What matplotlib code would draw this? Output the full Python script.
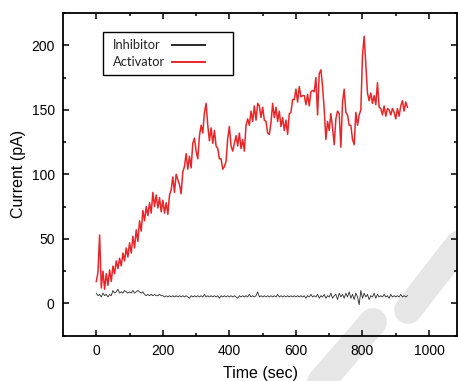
import matplotlib.pyplot as plt
import numpy as np
from matplotlib.lines import Line2D
from matplotlib.patches import Rectangle

# current traces (pA), one sample every 5 s
t_step = 5
activator = [
    17, 24, 53, 12, 25, 11, 23, 14, 26, 17,
    29, 23, 33, 27, 35, 29, 39, 33, 43, 36,
    47, 39, 52, 43, 57, 48, 64, 56, 72, 64,
    75, 68, 78, 70, 86, 75, 84, 74, 82, 71,
    80, 70, 78, 69, 84, 88, 98, 86, 100, 96,
    92, 85, 102, 106, 116, 104, 114, 105, 124, 128,
    118, 112, 130, 138, 132, 148, 155, 138, 126, 136,
    124, 134, 122, 120, 112, 112, 104, 106, 110, 128,
    137, 122, 118, 124, 130, 122, 132, 120, 127, 118,
    138, 143, 138, 149, 141, 153, 142, 155, 153, 144,
    152, 142, 141, 132, 131, 140, 155, 144, 152, 141,
    149, 137, 144, 134, 142, 131, 147, 148, 158, 158,
    166, 156, 168, 160, 161, 161, 154, 162, 153, 164,
    165, 164, 175, 146, 178, 181, 168, 150, 127, 141,
    134, 147, 136, 123, 143, 149, 147, 121, 156, 166,
    148, 146, 138, 138, 127, 123, 148, 138, 146, 150,
    192, 207, 185, 163, 157, 163, 155, 161, 154, 171,
    152, 151, 146, 153, 145, 151, 150, 146, 151, 148,
    143, 151, 145, 153, 157, 149, 156, 152,
]
inhibitor = [
    8, 6, 7, 5, 8, 6, 7, 5, 7, 6,
    10, 8, 9, 11, 8, 9, 8, 10, 9, 8, 9, 8, 10, 8, 9, 10, 9, 8, 9,
    7, 6, 7, 6, 7, 6, 7, 6, 6, 7, 6, 6, 5, 6, 5, 6, 5, 6, 5, 6, 5, 6,
    5, 6, 5, 6, 5, 4, 6, 5, 6, 5,
    6, 5, 6, 5, 7, 5, 6, 5, 6, 5,
    6, 5, 6, 4, 6, 5, 6, 5, 6, 5,
    6, 5, 6, 5, 4, 6, 5, 6, 5, 6,
    5, 7, 5, 6, 5, 6, 9, 5, 6, 5,
    6, 5, 6, 5, 6, 5, 6, 5, 7, 5,
    6, 5, 6, 5, 6, 5, 6, 5, 6, 5,
    6, 5, 6, 5, 6, 4, 6, 5, 7, 5,
    6, 5, 7, 4, 6, 5, 7, 4, 6, 5,
    8, 4, 6, 7, 3, 8, 5, 7, 4, 8,
    5, 9, 4, 7, 3, 8, 5, -1, 10, 4,
    8, 5, 7, 3, 6, 5, 8, 4, 7, 5,
    6, 5, 7, 5, 6, 4, 7, 5, 6, 5,
    6, 5, 7, 5, 6, 5, 6,
]
labels = ["Inhibitor", "Activator"]
colors = ["#2a2a2a", "#e8262a"]

t_act = np.arange(len(activator)) * t_step
t_inh = np.arange(len(inhibitor)) * t_step

plt.rcParams["font.family"] = ["Liberation Sans", "DejaVu Sans"]

fig = plt.figure(figsize=(4.58, 3.81), dpi=100)
ax = fig.add_axes([0.1376, 0.1189, 0.8602, 0.847])
ax.set_facecolor("none")

# publisher watermark behind the axes
for (x0, y0), (x1, y1) in [((300, 406), (373, 322)), ((408, 310), (500, 192))]:
    fig.add_artist(Line2D([x0 / 458, x1 / 458], [1 - y0 / 381, 1 - y1 / 381],
                          color="#e6e6e6", lw=20, solid_capstyle="round",
                          zorder=0))

ax.plot(t_inh, inhibitor, color=colors[0], lw=0.6)
ax.plot(t_act, activator, color=colors[1], lw=1.1)

ax.set_xlim(-100, 1084)
ax.set_ylim(-25, 225)
ax.set_xticks([0, 200, 400, 600, 800, 1000])
ax.set_xticks(np.arange(100, 1001, 200), minor=True)
ax.set_yticks([0, 50, 100, 150, 200])
ax.set_yticks([-25, 25, 75, 125, 175, 225], minor=True)
ax.tick_params(which="both", direction="in", top=True, right=True,
               width=1.1, labelsize=10, pad=6)
ax.tick_params(which="major", length=4.5)
ax.tick_params(which="minor", length=2.5)
for s in ax.spines.values():
    s.set_linewidth(1.3)

ax.set_xlabel("Time (sec)", fontsize=11.5, labelpad=6)
ax.set_ylabel("Current (pA)", fontsize=11.5, labelpad=4)

# legend box: label first, line sample after it, wide right margin
ax.add_patch(Rectangle((0.1015, 0.808), 0.33, 0.133, transform=ax.transAxes,
                       facecolor="white", edgecolor="black", lw=1.0, zorder=5))
for i, (lab, col) in enumerate(zip(labels, colors)):
    yy = 0.9008 - i * 0.054
    ax.text(0.1269, yy, lab, transform=ax.transAxes, va="center", ha="left",
            family="Lato", fontsize=9.3, color="#222222", zorder=6)
    ax.plot([0.2766, 0.3604], [yy, yy], transform=ax.transAxes, color=col,
            lw=1.4, zorder=6)

fig.savefig("out.png", dpi=100)
